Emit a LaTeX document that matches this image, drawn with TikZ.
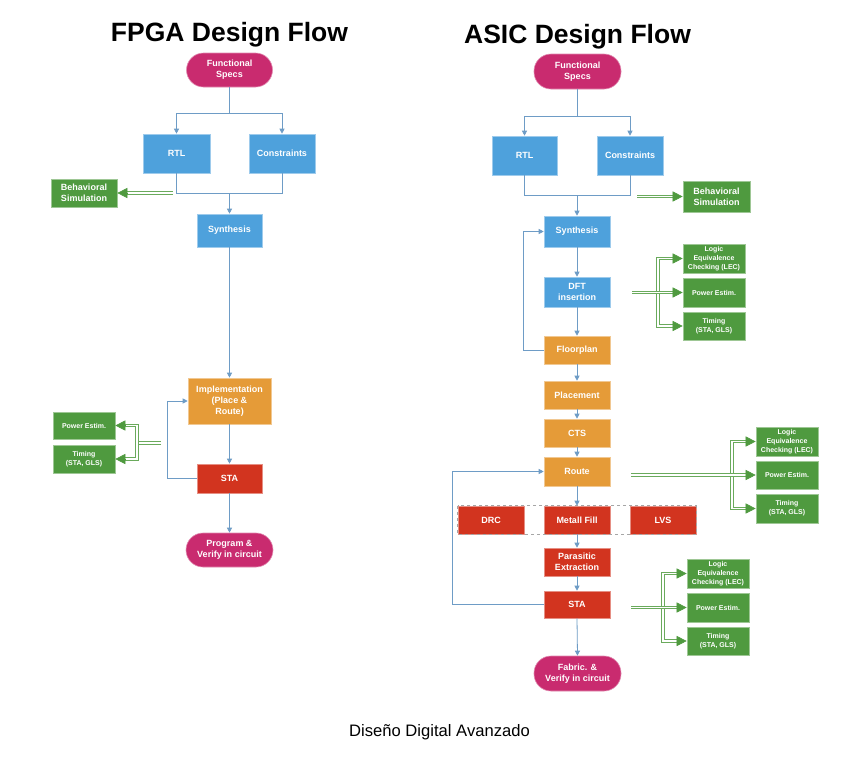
\documentclass[tikz,border=0pt]{standalone}
\usepackage{fontspec}
\setmainfont{Liberation Sans}
\usetikzlibrary{arrows.meta,calc}
\definecolor{cblue}{HTML}{4EA1DC}
\definecolor{corange}{HTML}{E59B38}
\definecolor{cred}{HTML}{D2341F}
\definecolor{cmag}{HTML}{C92B6F}
\definecolor{cgreen}{HTML}{4F9A3F}
\definecolor{cline}{HTML}{6E9CC6}
\definecolor{cgline}{HTML}{6AAA5C}
\tikzset{
  wh/.style 2 args={minimum width=#1pt, minimum height=#2pt},
  box/.style={rectangle, fill=#1, draw=#1!55!white, line width=0.6pt, text=white,
    font=\bfseries\fontsize{9}{11}\selectfont, align=center, inner sep=0pt},
  pill/.style={box=cmag, rounded corners=17pt},
  sbox/.style={box=cgreen, font=\bfseries\fontsize{7}{9}\selectfont},
  conn/.style={draw=cline, line width=0.8pt},
  arr/.style={conn, -{Triangle[length=5pt,width=5pt]}},
  gline/.style={draw=cgline, line width=1pt, double=white, double distance=1.6pt},
  gshaft/.style={gline, shorten >=9pt},
  gshaft2/.style={gline, shorten >=9pt, shorten <=9pt},
  gtip/.style={draw=cgreen, line width=0.5pt, -{Triangle[length=10pt,width=10pt]}},
  ttl/.style={font=\bfseries\fontsize{26.5}{30}\selectfont, anchor=base, inner sep=0pt},
}
\begin{document}
\begin{tikzpicture}[x=1pt,y=-1pt]
\useasboundingbox[fill=white] (0,0) rectangle (855,761);

% ---------------- FPGA ----------------
\node[ttl] (ftitle) at (229.5,41.7) {FPGA Design Flow};
\node[pill, wh={86}{34}] (fspec) at (229.5,70) {Functional\\Specs};
\node[box=cblue, wh={67}{39}] (frtl) at (176.5,153.5) {RTL};
\node[box=cblue, wh={66}{39}] (fcon) at (282,153.5) {Constraints};
\node[box=cgreen, wh={66}{28}] (fbeh) at (84,193) {Behavioral\\Simulation};
\node[box=cblue, wh={65}{33}] (fsyn) at (229.5,230.5) {Synthesis};
\node[box=corange, wh={83}{46}] (fimp) at (229.5,401) {Implementation\\(Place \&\\Route)};
\node[box=cred, wh={65}{29}] (fsta) at (229.5,478.5) {STA};
\node[pill, wh={87}{34}] (fprog) at (229.5,550) {Program \&\\Verify in circuit};
\node[sbox, wh={62}{27}] (fpow) at (84,425.5) {Power Estim.};
\node[sbox, wh={62}{28}] (ftim) at (84,459) {Timing\\(STA, GLS)};

\coordinate (fsplit) at (229.5,113);
\coordinate (fmerge) at (229.5,193);
\coordinate (fbs) at (173,193);
\coordinate (fgs) at (161,443);
\coordinate (fgj) at (137,443);

\draw[conn] (fspec.south) -- (fsplit);
\draw[arr] (fsplit) -| (frtl.north);
\draw[arr] (fsplit) -| (fcon.north);
\draw[conn] (frtl.south) |- (fmerge);
\draw[conn] (fcon.south) |- (fmerge);
\draw[arr] (fmerge) -- (fsyn.north);
\draw[arr] (fsyn.south) -- (fimp.north);
\draw[arr] (fimp.south) -- (fsta.north);
\draw[arr] (fsta.south) -- (fprog.north);
\draw[arr] (fsta.west) -- ++(-29,0) |- (fimp.west);

\draw[gshaft] (fbs) -- (fbeh.east);
\draw[gtip] ([xshift=10pt]fbeh.east) -- (fbeh.east);
\draw[gline] (fgs) -- (fgj);
\draw[gshaft2] (fpow.east) -| (fgj) |- (ftim.east);
\draw[gtip] ([xshift=10pt]fpow.east) -- (fpow.east);
\draw[gtip] ([xshift=10pt]ftim.east) -- (ftim.east);

% ---------------- ASIC ----------------
\node[ttl] (atitle) at (577.5,43.5) {ASIC Design Flow};
\node[pill, wh={87}{35}] (aspec) at (577.5,71.5) {Functional\\Specs};
\node[box=cblue, wh={65}{39}] (artl) at (524.5,155.5) {RTL};
\node[box=cblue, wh={66}{39}] (acon) at (630,155.5) {Constraints};
\node[box=cgreen, wh={67}{31}] (abeh) at (716.5,196.5) {Behavioral\\Simulation};
\node[box=cblue, wh={66}{31}] (asyn) at (577,231.5) {Synthesis};
\node[box=cblue, wh={66}{30}] (adft) at (577,292) {DFT\\insertion};
\node[box=corange, wh={66}{28}] (aflo) at (577,350) {Floorplan};
\node[box=corange, wh={66}{28}] (apla) at (577,395) {Placement};
\node[box=corange, wh={66}{28}] (acts) at (577,433) {CTS};
\node[box=corange, wh={66}{29}] (arou) at (577,471.5) {Route};
\node[box=cred, wh={66}{28}] (adrc) at (491,520) {DRC};
\node[box=cred, wh={66}{28}] (amf) at (577,520) {Metall Fill};
\node[box=cred, wh={66}{28}] (alvs) at (663,520) {LVS};
\node[box=cred, wh={66}{28}] (apar) at (577,562) {Parasitic\\Extraction};
\node[box=cred, wh={66}{27}] (asta) at (577,604.5) {STA};
\node[pill, wh={87}{35}] (afab) at (577.5,673.5) {Fabric. \&\\Verify in circuit};

\draw[gray!70, line width=0.5pt, dashed] (adrc.north west) rectangle (alvs.south east);

\node[sbox, wh={62}{29}] (alec1) at (714,258.5) {Logic\\Equivalence\\Checking (LEC)};
\node[sbox, wh={62}{29}] (apow1) at (714,292.5) {Power Estim.};
\node[sbox, wh={62}{28}] (atim1) at (714,326) {Timing\\(STA, GLS)};
\node[sbox, wh={62}{29}] (alec2) at (787,441.5) {Logic\\Equivalence\\Checking (LEC)};
\node[sbox, wh={62}{28}] (apow2) at (787,475) {Power Estim.};
\node[sbox, wh={62}{29}] (atim2) at (787,508.5) {Timing\\(STA, GLS)};
\node[sbox, wh={62}{29}] (alec3) at (718,573.5) {Logic\\Equivalence\\Checking (LEC)};
\node[sbox, wh={62}{29}] (apow3) at (718,607.5) {Power Estim.};
\node[sbox, wh={62}{28}] (atim3) at (718,641) {Timing\\(STA, GLS)};

\coordinate (asplit) at (577.5,116);
\coordinate (amerge) at (577,195);
\coordinate (abs) at (637,196.5);
\coordinate (ag1s) at (632,292.5);
\coordinate (ag1j) at (658,292.5);
\coordinate (ag2s) at (631,475);
\coordinate (ag2j) at (732,475);
\coordinate (ag3s) at (631,607.5);
\coordinate (ag3j) at (663,607.5);

\draw[conn] (aspec.south) -- (asplit);
\draw[arr] (asplit) -| (artl.north);
\draw[arr] (asplit) -| (acon.north);
\draw[conn] (artl.south) |- (amerge);
\draw[conn] (acon.south) |- (amerge);
\draw[arr] (amerge) -- (asyn.north);
\draw[arr] (asyn.south) -- (adft.north);
\draw[arr] (adft.south) -- (aflo.north);
\draw[arr] (aflo.south) -- (apla.north);
\draw[arr] (apla.south) -- (acts.north);
\draw[arr] (acts.south) -- (arou.north);
\draw[arr] (arou.south) -- (amf.north);
\draw[arr] (amf.south) -- (apar.north);
\draw[arr] (apar.south) -- (asta.north);
\draw[arr] (asta.south) -- (afab.north);
\draw[arr] (aflo.west) -- ++(-20,0) |- (asyn.west);
\draw[arr] (asta.west) -- ++(-91,0) |- (arou.west);

\draw[gshaft] (abs) -- (abeh.west);
\draw[gtip] ([xshift=-10pt]abeh.west) -- (abeh.west);

\draw[gshaft2] (alec1.west) -| (ag1j) |- (atim1.west);
\draw[gshaft] (ag1s) -- (apow1.west);
\draw[gtip] ([xshift=-10pt]alec1.west) -- (alec1.west);
\draw[gtip] ([xshift=-10pt]apow1.west) -- (apow1.west);
\draw[gtip] ([xshift=-10pt]atim1.west) -- (atim1.west);

\draw[gshaft2] (alec2.west) -| (ag2j) |- (atim2.west);
\draw[gshaft] (ag2s) -- (apow2.west);
\draw[gtip] ([xshift=-10pt]alec2.west) -- (alec2.west);
\draw[gtip] ([xshift=-10pt]apow2.west) -- (apow2.west);
\draw[gtip] ([xshift=-10pt]atim2.west) -- (atim2.west);

\draw[gshaft2] (alec3.west) -| (ag3j) |- (atim3.west);
\draw[gshaft] (ag3s) -- (apow3.west);
\draw[gtip] ([xshift=-10pt]alec3.west) -- (alec3.west);
\draw[gtip] ([xshift=-10pt]apow3.west) -- (apow3.west);
\draw[gtip] ([xshift=-10pt]atim3.west) -- (atim3.west);

\node[font=\fontsize{16.6}{20}\selectfont, anchor=base, inner sep=0pt] (footer) at (439.5,736.7) {Diseño Digital Avanzado};
\end{tikzpicture}
\end{document}
